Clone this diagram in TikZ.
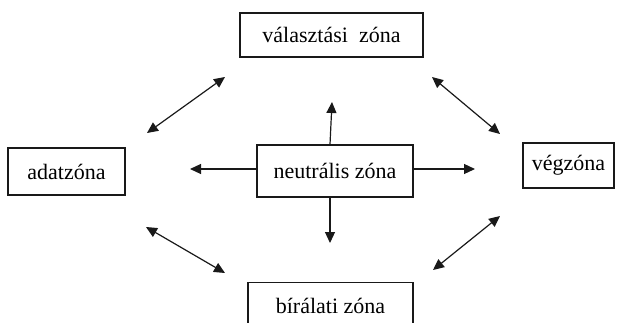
\documentclass[tikz,border=0pt]{standalone}
\usepackage{fontspec}
\setmainfont{Liberation Serif}
\usetikzlibrary{arrows.meta}
\begin{document}
\begin{tikzpicture}[x=1pt,y=1pt,
  zone/.style={draw=black!90, line width=1.3pt, fill=white, inner sep=0pt,
    font=\fontsize{22}{26}\selectfont, text=black},
  link/.style={line width=1.2pt, draw=black!90, {Triangle[length=11pt,width=10pt]}-{Triangle[length=11pt,width=10pt]}},
  outarrow/.style={line width=1.2pt, draw=black!90, -{Triangle[length=11pt,width=10pt]}}]
\useasboundingbox (0,0) rectangle (618,322);

% zones
\node[zone, minimum width=183pt, minimum height=44pt] (valaszt) at (331.5,287) {választási\ \ zóna};
\node[zone, minimum width=117pt, minimum height=47pt] (adat) at (66.5,150.5) {adatzóna};
\node[zone, minimum width=156pt, minimum height=52pt] (neutr) at (335,151) {neutrális zóna};
\node[zone, minimum width=91pt, minimum height=45pt] (veg) at (568.5,156.5) {végzóna};
\node[zone, minimum width=165pt, minimum height=46pt, anchor=north] (biral) at (330.5,40) {bírálati zóna};

% free ends of the arrows
\coordinate (ul1) at (147,189); \coordinate (ul2) at (225,245);
\coordinate (ur1) at (432,245); \coordinate (ur2) at (500,188);
\coordinate (bl1) at (146,95);  \coordinate (bl2) at (225,49);
\coordinate (br1) at (433,52);  \coordinate (br2) at (500,106);
\coordinate (up) at (332,220);
\coordinate (dn) at (330,79);
\coordinate (lt) at (190,153);
\coordinate (rt) at (475,153);

% two-way links between the outer zones
\draw[link] (ul1) -- (ul2);
\draw[link] (ur1) -- (ur2);
\draw[link] (bl1) -- (bl2);
\draw[link] (br1) -- (br2);

% arrows leaving the neutral zone
\draw[outarrow] (neutr.north -| 330,0) -- (up);
\draw[outarrow] (neutr.south -| 330,0) -- (dn);
\draw[outarrow] (neutr.west |- 0,153) -- (lt);
\draw[outarrow] (neutr.east |- 0,153) -- (rt);
\end{tikzpicture}
\end{document}
